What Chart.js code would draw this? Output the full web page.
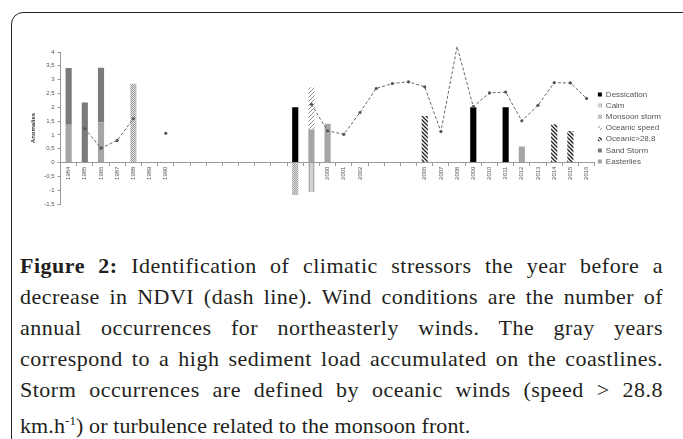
<!DOCTYPE html>
<html>
<head>
<meta charset="utf-8">
<script src="https://cdn.jsdelivr.net/npm/chart.js@4.4.0/dist/chart.umd.min.js"></script>
<style>
  html, body { margin: 0; padding: 0; background: #fff; width: 683px; height: 439px; overflow: hidden; }
  #frame { position: absolute; left: 11px; top: 12px; width: 700px; height: 500px;
           border: 1.5px solid #222; border-radius: 12px; box-sizing: border-box; }
  #chart-wrap { position: absolute; left: 20px; top: 38px; width: 663px; height: 185px; }
  #caption { position: absolute; left: 20px; top: 250px; width: 643px;
             font-family: "Liberation Serif", "DejaVu Serif", serif; font-size: 22px;
             letter-spacing: 0.5px; line-height: 31px; color: #231f20; }
  #caption div { text-align: justify; text-align-last: justify; white-space: nowrap; }
  #caption div.last { text-align-last: left; letter-spacing: 0.1px; }
  #caption b { color: #231f20; }
</style>
</head>
<body>
<div id="frame"></div>
<div id="chart-wrap"><canvas id="stress-chart" width="663" height="185"></canvas></div>
<div id="caption">
  <div><b>Figure 2:</b> Identification of climatic stressors the year before a</div>
  <div>decrease in NDVI (dash line). Wind conditions are the number of</div>
  <div>annual occurrences for northeasterly winds. The gray years</div>
  <div>correspond to a high sediment load accumulated on the coastlines.</div>
  <div>Storm occurrences are defined by oceanic winds (speed &gt; 28.8</div>
  <div class="last">km.h<sup style="font-size:13px">-1</sup>) or turbulence related to the monsoon front.</div>
</div>
<script>
const years = [1984, 1985, 1986, 1987, 1988, 1989, 1990, 1991, 1992, 1993, 1994,
  1995, 1996, 1997, 1998, 1999, 2000, 2001, 2002, 2003, 2004, 2005, 2006,
  2007, 2008, 2009, 2010, 2011, 2012, 2013, 2014, 2015, 2016];
const tickLabels = ['1984', '1985', '1986', '1987', '1988', '1989', '1990', '', '', '', '',
  '', '', '', '1998', '1999', '2000', '2001', '2002', '', '', '', '2006',
  '2007', '2008', '2009', '2010', '2011', '2012', '2013', '2014', '2015', '2016'];

// NDVI anomaly (dash line), null where no point
const ndvi = [null, 1.23, 0.52, 0.80, 1.59, null, 1.06, null, null, null, null,
  null, null, null, null, 2.11, 1.15, 1.02, 1.81, 2.68, 2.86, 2.92, 2.74,
  1.12, 4.20, 2.02, 2.52, 2.55, 1.51, 2.07, 2.89, 2.88, 2.32];

// bar segments as [year, value]
const dessication = [[1998, 2.0], [2009, 2.0], [2011, 2.0]];
const calm = [[1999, -1.07]];
const monsoonStorm = [[1988, 2.85], [1998, -1.17]];
const oceanicSpeed = [[1999, 1.52]];
const oceanic288 = [[2006, 1.68], [2014, 1.39], [2015, 1.14]];
const sandStorm = [[1984, 2.05], [1985, 2.17], [1986, 1.97]];
const easterlies = [[1984, 1.37], [1986, 1.46], [1999, 1.20], [2000, 1.40], [2012, 0.58]];

const legendOrder = ['Dessication', 'Calm', 'Monsoon storm', 'Oceanic speed', 'Oceanic>28,8', 'Sand Storm', 'Easterlies'];

const toSeries = pairs => years.map(y => {
  const p = pairs.find(q => q[0] === y);
  return p ? p[1] : null;
});

function pattern(bg, fg, kind) {
  const c = document.createElement('canvas');
  c.width = 4; c.height = 4;
  const g = c.getContext('2d');
  g.fillStyle = bg;
  g.fillRect(0, 0, 4, 4);
  g.strokeStyle = fg;
  g.fillStyle = fg;
  g.lineWidth = 1;
  if (kind === 'up') {
    g.beginPath();
    g.moveTo(0, 4); g.lineTo(4, 0);
    g.moveTo(-1, 1); g.lineTo(1, -1);
    g.moveTo(3, 5); g.lineTo(5, 3);
    g.stroke();
  } else if (kind === 'down') {
    g.lineWidth = 1.3;
    g.beginPath();
    g.moveTo(0, 0); g.lineTo(4, 4);
    g.moveTo(3, -1); g.lineTo(5, 1);
    g.moveTo(-1, 3); g.lineTo(1, 5);
    g.stroke();
  } else if (kind === 'vert') {
    g.fillRect(1, 0, 1, 4);
  } else if (kind === 'check') {
    g.fillRect(0, 0, 1, 1);
    g.fillRect(2, 0, 1, 1);
    g.fillRect(1, 1, 1, 1);
    g.fillRect(3, 1, 1, 1);
    g.fillRect(0, 2, 1, 1);
    g.fillRect(2, 2, 1, 1);
    g.fillRect(1, 3, 1, 1);
    g.fillRect(3, 3, 1, 1);
  }
  return g.createPattern(c, 'repeat');
}

function initChart() {
  const ctx = document.getElementById('stress-chart').getContext('2d');

  const bar = (label, pairs, color) => ({
    type: 'bar',
    label: label,
    data: toSeries(pairs),
    backgroundColor: color,
    borderWidth: 0,
    stack: 's',
    order: 1,
    barPercentage: 0.38,
    categoryPercentage: 1.0
  });

  new Chart(ctx, {
    type: 'bar',
    data: {
      labels: years.map(String),
      datasets: [
        bar('Easterlies', easterlies, '#a5a5a5'),
        bar('Dessication', dessication, '#000000'),
        bar('Calm', calm, pattern('#d2d2d2', '#a8a8a8', 'vert')),
        bar('Monsoon storm', monsoonStorm, pattern('#e4e4e4', '#9a9a9a', 'check')),
        bar('Oceanic speed', oceanicSpeed, pattern('#ffffff', '#8c8c8c', 'up')),
        bar('Oceanic>28,8', oceanic288, pattern('#ffffff', '#1e1e1e', 'down')),
        bar('Sand Storm', sandStorm, '#7a7a7a'),
        {
          type: 'line',
          label: 'NDVI',
          data: ndvi,
          borderColor: '#666',
          borderWidth: 1,
          borderDash: [3, 2],
          pointRadius: 1.6,
          pointBackgroundColor: '#555',
          pointBorderWidth: 0,
          spanGaps: false,
          clip: false,
          order: 0
        }
      ]
    },
    options: {
      responsive: false,
      animation: false,
      layout: { padding: { top: 14, bottom: 19, left: 6, right: 12 } },
      plugins: {
        tooltip: { enabled: false },
        legend: {
          position: 'right',
          labels: {
            boxWidth: 4,
            boxHeight: 4,
            padding: 3.2,
            color: '#555',
            font: { family: 'Liberation Sans, Arial, sans-serif', size: 8 },
            filter: item => item.text !== 'NDVI',
            sort: (a, b) => legendOrder.indexOf(a.text) - legendOrder.indexOf(b.text)
          }
        }
      },
      scales: {
        x: {
          stacked: true,
          position: { y: 0 },
          grid: { drawOnChartArea: false, drawTicks: true, tickLength: 3, color: '#9a9a9a' },
          border: { color: '#9a9a9a' },
          ticks: {
            autoSkip: false,
            minRotation: 90,
            maxRotation: 90,
            padding: 1,
            color: '#555',
            font: { family: 'Liberation Sans, Arial, sans-serif', size: 6 },
            callback: (v, i) => tickLabels[i]
          }
        },
        y: {
          stacked: true,
          min: -1.5,
          max: 4,
          grid: { drawOnChartArea: false, drawTicks: true, tickLength: 3, color: '#9a9a9a' },
          border: { color: '#9a9a9a' },
          ticks: {
            stepSize: 0.5,
            padding: 3,
            color: '#555',
            font: { family: 'Liberation Sans, Arial, sans-serif', size: 6 },
            callback: v => String(Number(v.toFixed(1))).replace('.', ',')
          },
          title: {
            display: true,
            text: 'Anomalies',
            color: '#333',
            padding: 4,
            font: { family: 'Liberation Sans, Arial, sans-serif', size: 6, weight: 'bold' }
          }
        }
      }
    }
  });
}

requestAnimationFrame(initChart);
</script>
</body>
</html>
